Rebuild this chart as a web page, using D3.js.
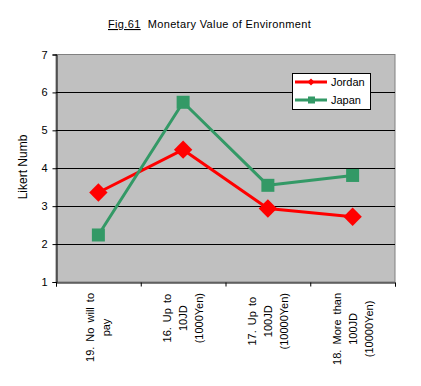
<!DOCTYPE html>
<html><head><meta charset="utf-8">
<script src="https://cdn.jsdelivr.net/npm/d3@7"></script>
<style>body{margin:0;background:#fff}svg{display:block}text{font-family:"Liberation Sans",Arial,sans-serif;fill:#000}</style>
</head><body><svg id="c" width="421" height="386"></svg>
<script>
const categories = [
  ["19. No will to", "pay"],
  ["16. Up to", "10JD", "(1000Yen)"],
  ["17. Up to", "100JD", "(10000Yen)"],
  ["18. More than", "100JD", "(10000Yen)"]
];
const jordan = [3.36, 4.49, 2.94, 2.72];
const japan = [2.24, 5.74, 3.55, 3.81];
const yTicks = [1, 2, 3, 4, 5, 6, 7];
const seriesNames = ["Jordan", "Japan"];
const colors = ["#FF0000", "#339966"];

const svg = d3.select("#c");
const L = 56, R = 395, T = 54.5, B = 282;
const x = d3.scaleBand().domain(d3.range(categories.length)).range([L, R]);
const y = d3.scaleLinear().domain([1, 7]).range([B, T]);

// plot background
svg.append("rect").attr("x", L).attr("y", T).attr("width", R - L).attr("height", B - T)
  .attr("fill", "#C0C0C0").attr("stroke", "#808080").attr("stroke-width", 1);

// gridlines
svg.append("g").selectAll("line").data(yTicks.filter(d => d > 1 && d < 7)).join("line")
  .attr("x1", L).attr("x2", R).attr("y1", d => Math.round(y(d)) + 0.5).attr("y2", d => Math.round(y(d)) + 0.5)
  .attr("stroke", "#000").attr("stroke-width", 1);

// y axis
const yAxis = d3.axisLeft(y).tickValues(yTicks).tickSize(4).tickPadding(5).tickFormat(d3.format("d"));
const gy = svg.append("g").attr("transform", `translate(${L + 0.5},0)`).call(yAxis);
gy.select(".domain").attr("stroke", "#000");
gy.selectAll("line").attr("stroke", "#000");
gy.selectAll("text").attr("font-size", 11).attr("font-family", "Liberation Sans, Arial, sans-serif");

// x axis line and ticks at category boundaries
const xb = d3.scaleLinear().domain([0, categories.length]).range([L, R]);
const xAxis = d3.axisBottom(xb).tickValues(d3.range(categories.length + 1)).tickSize(4).tickFormat("");
const gx = svg.append("g").attr("transform", `translate(0,${B + 0.5})`).call(xAxis);
gx.select(".domain").attr("stroke", "#000");
gx.selectAll("line").attr("stroke", "#000");

// x labels rotated
const lineGap = 16, topY = 293;
categories.forEach((lines, i) => {
  const cx = x(i) + x.bandwidth() / 2;
  const g = svg.append("g");
  const texts = lines.map((s, j) => g.append("text").text(s).attr("font-size", 11)
    .attr("word-spacing", 2)
    .attr("text-anchor", "middle").attr("dominant-baseline", "central"));
  const maxW = d3.max(texts, t => t.node().getComputedTextLength());
  const cy = topY + maxW / 2;
  texts.forEach((t, j) => {
    const lx = cx + (j - (lines.length - 1) / 2) * lineGap;
    t.attr("transform", `translate(${lx},${cy}) rotate(-90)`);
  });
});

// series
const line = d3.line().x((d, i) => x(i) + x.bandwidth() / 2).y(d => y(d));
[jordan, japan].forEach((data, k) => {
  svg.append("path").datum(data).attr("d", line).attr("fill", "none")
    .attr("stroke", colors[k]).attr("stroke-width", 3).attr("stroke-linejoin", "round");
});
// markers
svg.append("g").selectAll("path").data(jordan).join("path")
  .attr("transform", (d, i) => `translate(${x(i) + x.bandwidth() / 2},${y(d)}) rotate(45)`)
  .attr("d", "M-6.5,-6.5H6.5V6.5H-6.5Z").attr("fill", colors[0]);
svg.append("g").selectAll("rect").data(japan).join("rect")
  .attr("x", (d, i) => x(i) + x.bandwidth() / 2 - 6.5).attr("y", d => y(d) - 6.5)
  .attr("width", 13).attr("height", 13).attr("fill", colors[1]);

// legend
const lg = svg.append("g");
lg.append("rect").attr("x", 292.5).attr("y", 73.5).attr("width", 78).attr("height", 36)
  .attr("fill", "#fff").attr("stroke", "#000");
seriesNames.forEach((n, k) => {
  const ly = 82 + k * 18;
  lg.append("line").attr("x1", 295).attr("x2", 327).attr("y1", ly).attr("y2", ly)
    .attr("stroke", colors[k]).attr("stroke-width", 3);
  if (k === 0) lg.append("path").attr("transform", `translate(311,${ly}) rotate(45)`)
    .attr("d", "M-2.5,-2.5H2.5V2.5H-2.5Z").attr("fill", colors[k]);
  else lg.append("rect").attr("x", 308).attr("y", ly - 3.5).attr("width", 7).attr("height", 7).attr("fill", colors[k]);
  lg.append("text").attr("x", 331).attr("y", ly + 4).attr("font-size", 11).text(n);
});

// y title
svg.append("text").attr("transform", "translate(27,167) rotate(-90)").attr("text-anchor", "middle")
  .attr("font-size", 12).text("Likert Numb");

// title
const tt = svg.append("text").attr("x", 108).attr("y", 28).attr("font-size", 11).attr("letter-spacing", 0.35);
tt.append("tspan").attr("text-decoration", "underline").text("Fig.61");
tt.append("tspan").attr("dx", 7).text("Monetary Value of Environment");
</script></body></html>
